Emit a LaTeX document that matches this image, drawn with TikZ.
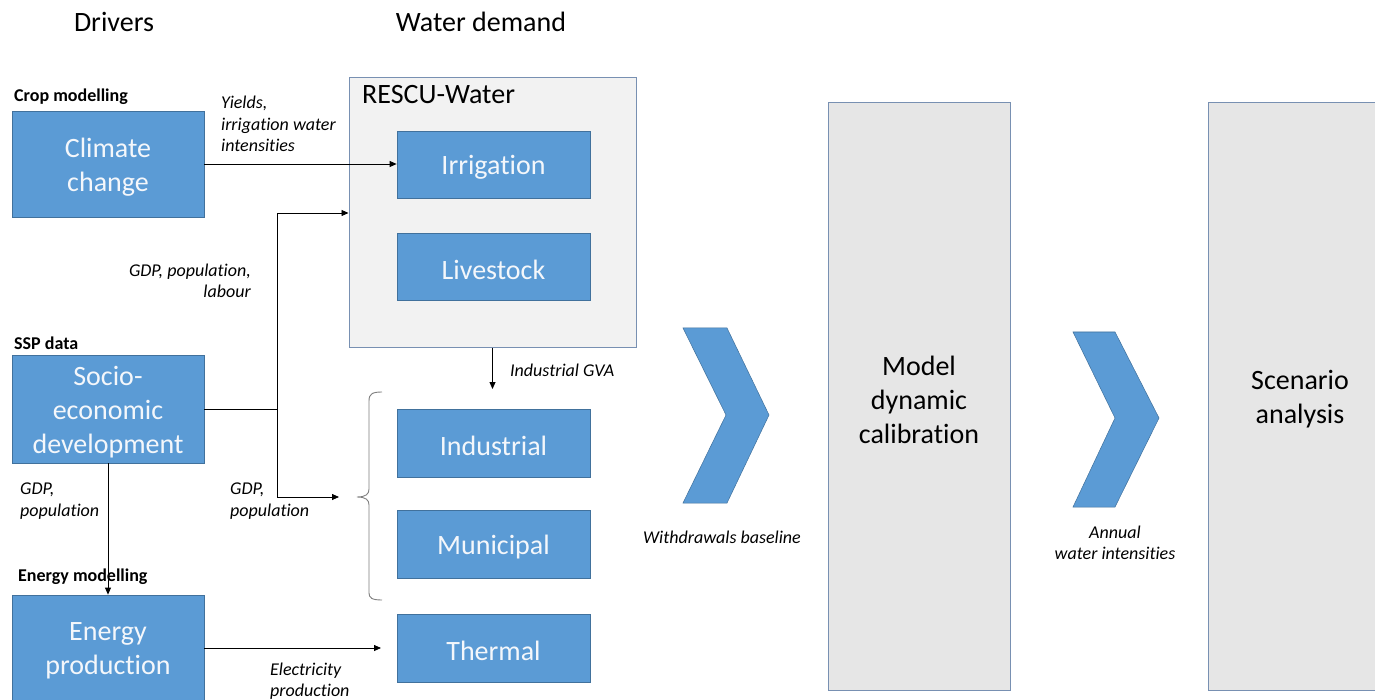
\documentclass[tikz,border=0pt]{standalone}
\usepackage{fontspec}
\setmainfont{Carlito}[RawFeature=-liga]
\usetikzlibrary{arrows.meta}
\definecolor{boxblue}{HTML}{5B9BD5}
\definecolor{boxedge}{HTML}{41719C}
\definecolor{boxtext}{HTML}{F4F7FB}
\definecolor{lightgray}{HTML}{F2F2F2}
\definecolor{midgray}{HTML}{E6E6E6}
\definecolor{grayedge}{HTML}{7890B2}
\definecolor{bracecol}{HTML}{7F7F7F}
\tikzset{
  bluebox/.style={draw=boxedge, fill=boxblue, line width=0.8pt, inner sep=0pt},
  graybox/.style={draw=grayedge, fill=midgray, line width=1pt, inner sep=0pt},
  bluetxt/.style={text=boxtext, align=center, inner sep=0pt, yshift=-3pt,
    font=\fontsize{28}{34}\selectfont},
  graytxt/.style={align=center, inner sep=0pt, yshift=-3pt,
    font=\fontsize{28}{34}\selectfont},
  lbl/.style={inner sep=0pt, font=\fontsize{18}{21.6}\selectfont\itshape},
  head/.style={inner sep=0pt, font=\fontsize{18}{21.6}\selectfont\bfseries},
  title/.style={inner sep=0pt, font=\fontsize{28}{34}\selectfont},
  arr/.style={-{Triangle[length=7pt,width=6pt]}, line width=0.8pt},
  ln/.style={line width=0.8pt},
  chev/.style={fill=boxblue, draw=boxedge, line width=0.5pt}
}
\begin{document}
\begin{tikzpicture}[x=1pt,y=-1pt]
\path[use as bounding box, clip] (0,0) rectangle (1375,700);
\fill[white] (0,0) rectangle (1375,700);

% titles
\node[title] (tdrv) at (114,22) {Drivers};
\node[title] (twd) at (481,22) {Water demand};

% driver boxes
\node[head, anchor=west] (hcrop) at (14,97) {Crop modelling};
\node[bluebox, minimum width=192, minimum height=106,
  label={[bluetxt]center:{Climate\\change}}] (cc) at (108,164) {};
\node[head, anchor=west] (hssp) at (14,343) {SSP data};
\node[bluebox, minimum width=192, minimum height=108,
  label={[bluetxt]center:{Socio-\\economic\\development}}] (se) at (108,409) {};
\node[head, anchor=west] (hen) at (18,577) {Energy modelling};
\node[bluebox, minimum width=192, minimum height=106,
  label={[bluetxt]center:{Energy\\production}}] (ep) at (108,648) {};

% RESCU-Water
\node[draw=grayedge, fill=lightgray, line width=1pt, minimum width=287, minimum height=269, inner sep=0pt] (rescu) at (492.5,212.5) {};
\node[title, anchor=west] (trescu) at (362,95) {RESCU-Water};
\node[bluebox, minimum width=193, minimum height=67, label={[bluetxt]center:Irrigation}] (irr) at (493.5,164.5) {};
\node[bluebox, minimum width=193, minimum height=67, label={[bluetxt]center:Livestock}] (liv) at (493.5,266.5) {};
\node[bluebox, minimum width=193, minimum height=68, label={[bluetxt]center:Industrial}] (ind) at (493.5,443) {};
\node[bluebox, minimum width=193, minimum height=68, label={[bluetxt]center:Municipal}] (mun) at (493.5,544) {};
\node[bluebox, minimum width=193, minimum height=68, label={[bluetxt]center:Thermal}] (the) at (493.5,648) {};

% right boxes
\node[graybox, minimum width=182, minimum height=587,
  label={[graytxt]center:{Model\\dynamic\\calibration}}] (mdc) at (919,396.5) {};
\node[graybox, minimum width=184, minimum height=587,
  label={[graytxt]center:{Scenario\\analysis}}] (sa) at (1300,396.5) {};

% chevrons
\draw[chev] (683,328) -- (727,328) -- (769,415) -- (727,503) -- (683,503) -- (726,415) -- cycle;
\draw[chev] (1073,332) -- (1115,332) -- (1159,418) -- (1115,507) -- (1073,507) -- (1115,418) -- cycle;

% brace
\draw[bracecol, line width=0.9pt] (382,392) .. controls (372,392) and (369,394) .. (369,401) -- (369,489)
  .. controls (369,494) and (366,497) .. (357,497) .. controls (366,497) and (369,500) .. (369,505)
  -- (369,593) .. controls (369,598) and (372,600) .. (382,600);

% coordinates
\coordinate (j1) at (277,409);
\coordinate (jt) at (277,213);
\coordinate (bra) at (339,497);
\coordinate (gva) at (492.5,389);
\coordinate (thin) at (381,648);

% connectors
\draw[arr] (cc.east) -- (irr.west |- cc.east);
\draw[ln] (se.east) -- (j1);
\draw[arr] (j1) |- (rescu.west |- jt);
\draw[arr] (j1) |- (bra);
\draw[arr] (se.south) -- (ep.north);
\draw[arr] (rescu.south) -- (gva);
\draw[arr] (ep.east) -- (thin);

% labels
\node[lbl, anchor=west, align=left] (lyld) at (221,124) {Yields,\\irrigation water\\intensities};
\node[lbl, anchor=east, align=right] (lgdp1) at (251,281) {GDP, population,\\labour};
\node[lbl, anchor=west, align=left] (lgdp2) at (20,501) {GDP,\\population};
\node[lbl, anchor=west, align=left] (lgdp3) at (230,501) {GDP,\\population};
\node[lbl, anchor=west, align=left] (lel) at (270,681) {Electricity\\production};
\node[lbl, anchor=west] (lgva) at (510,370) {Industrial GVA};
\node[lbl] (lwb) at (722,537) {Withdrawals baseline};
\node[lbl, align=center] (lawi) at (1115,543) {Annual\\water intensities};
\end{tikzpicture}
\end{document}
